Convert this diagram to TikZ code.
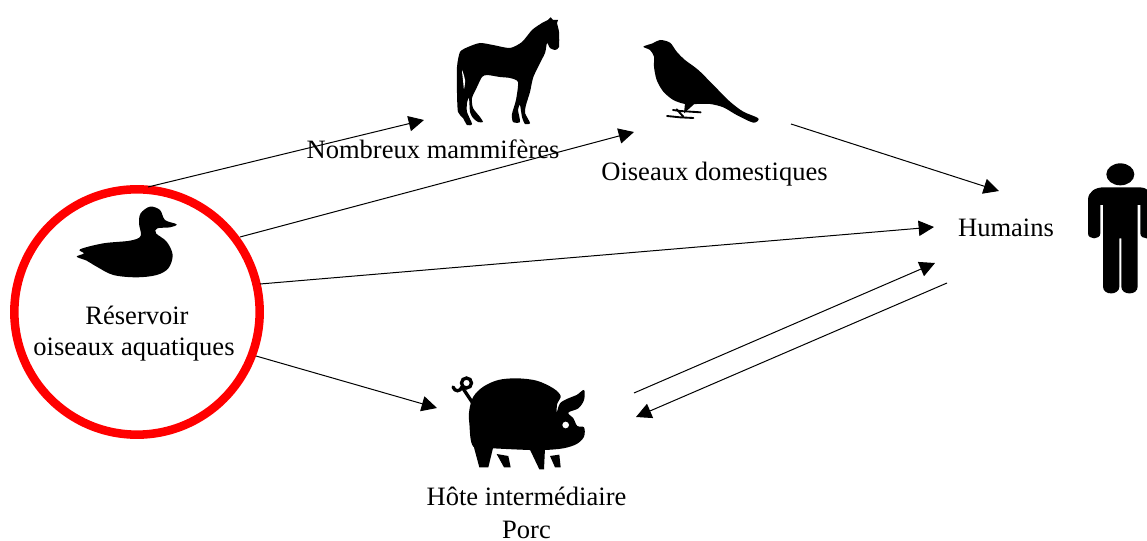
\documentclass[tikz,border=0pt]{standalone}
\usepackage{fontspec}
\setmainfont{Liberation Serif}
\usetikzlibrary{arrows.meta}
\tikzset{
  flow/.style={draw=black,line width=0.75pt,-{Triangle[length=11.5pt,width=11.5pt]}},
  lbl/.style={inner sep=0pt,anchor=base,align=center,font=\fontsize{19.9pt}{24pt}\selectfont,text=black},
  reservoirc/.style={circle,draw=red,line width=6.4pt,fill=none,minimum size=184pt,inner sep=0pt},
  sil/.style={fill=black,draw=none},
  zoomed/.style={x=0.25pt,y=-0.25pt}
}
\begin{document}
\begin{tikzpicture}[x=0.75pt,y=-0.75pt]
\clip (0,0) rectangle (1147,541);
\fill[white] (0,0) rectangle (1147,541);
% horse
\fill[sil] plot[smooth cycle,tension=0.4] coordinates {(550.7,17.3)(553,20)(558,20)(557,23)(559,32)(559,47)(555,50)(550,48)(547,43)(545,53)(538,67)(533,78)(530,92)(526,105)(525,113)(530,123)(525,124)(522,117)(520,105)(518,110)(520,122)(513,122)(512,114)(516,100)(518,82)(510,78)(500,77)(487,75)(482,77)(477,87)(472,98)(473,108)(480,117)(483,122)(478,122)(473,118)(470,112)(469,98)(467,103)(467,112)(472,124)(467,125)(463,118)(458,112)(457,93)(457,67)(460,52)(468,47)(480,43)(493,45)(510,48)(522,42)(532,30)(542,23)(548,20)};
\fill[white] plot[smooth cycle,tension=0.5] coordinates {(462,70)(465,80)(464,89)(463,80)};
% bird
\begin{scope}[shift={(630,30)},zoomed]
\fill[sil] plot[smooth cycle,tension=0.5] coordinates {(40,50)(68,40)(90,30)(120,38)(140,65)(165,90)(205,120)(250,165)(300,215)(340,245)(385,265)(370,278)(320,255)(280,232)(240,222)(200,222)(165,222)(130,210)(100,185)(80,150)(72,110)(72,80)(60,60)};
\fill[sil] (165,220)--(195,220)--(162,250)--cycle;
\draw[black,line width=1.4pt,line cap=round] (129,240)--(150,243)--(212,247);
\draw[black,line width=1.4pt,line cap=round] (111,258)--(150,262)--(190,264);
\draw[black,line width=1.4pt,line cap=round] (140,238)--(160,260);
\end{scope}
% duck
\begin{scope}[shift={(70,200)},zoomed]
\fill[sil] plot[smooth cycle,tension=0.55] coordinates {(20,170)(42,160)(30,148)(100,130)(180,122)(212,108)(207,70)(212,40)(240,20)(270,30)(285,60)(320,73)(300,82)(262,85)(258,100)(290,125)(308,165)(295,205)(260,225)(200,232)(130,225)(80,200)(50,182)};
\end{scope}
% pig
\begin{scope}[shift={(440,370)},zoomed]
\fill[sil] plot[smooth cycle,tension=0.55] coordinates {(100,80)(130,50)(175,30)(230,25)(290,32)(340,55)(362,78)(352,100)(350,128)(360,100)(385,85)(410,75)(432,60)(432,90)(415,115)(385,128)(400,145)(412,168)(432,172)(432,200)(410,222)(370,235)(315,240)(268,240)(160,235)(100,230)(88,160)(88,120)};
\fill[sil] (100,225)--(118,292)--(145,292)--(160,230)--cycle;
\fill[sil] (268,235)--(298,298)--(312,298)--(315,235)--cycle;
\fill[sil] (170,252)--(205,258)--(212,292)--(192,292)--cycle;
\fill[sil] (330,258)--(358,254)--(362,292)--(345,292)--cycle;
\fill[white] (377,165) circle[radius=10];
\end{scope}
\draw[black,line width=2.5pt] (466.5,383) circle[radius=5];
\draw[black,line width=2.5pt,line cap=round] (474,405) -- (462,387) .. controls (460,392) and (455,392) .. (453,387);
% human
\begin{scope}[shift={(1077,155)},zoomed]
\fill[sil] (130,58) ellipse[x radius=42,y radius=33];
\fill[sil] (33,135) .. controls (33,110) and (55,97) .. (80,97) -- (185,97) .. controls (210,97) and (227,110) .. (227,135) -- (227,235) .. controls (227,255) and (190,255) .. (190,235) -- (190,150) -- (182,150) -- (182,395) .. controls (182,422) and (133,422) .. (133,395) -- (133,250) -- (127,250) -- (127,395) .. controls (127,422) and (78,422) .. (78,395) -- (78,150) -- (70,150) -- (70,235) .. controls (70,255) and (33,255) .. (33,235) -- cycle;
\end{scope}
% labels and nodes
\node[reservoirc] (res) at (137,312) {};
\node[lbl] (reslabel) at (137,325) {Réservoir};
\node[lbl] (reslabelb) at (134,356) {oiseaux aquatiques};
\node[lbl] (mam) at (433,159) {Nombreux mammifères};
\node[lbl] (dom) at (714.5,181) {Oiseaux domestiques};
\node[lbl] (hum) at (1006,237) {Humains};
\node[lbl] (hote) at (526.5,506) {Hôte intermédiaire};
\node[lbl] (porc) at (526.5,539) {Porc};
% connector ends
\coordinate (a1) at (148,187); \coordinate (b1) at (424,120);
\coordinate (a2) at (240,237); \coordinate (b2) at (634,132);
\coordinate (a3) at (260,284); \coordinate (b3) at (934,227);
\coordinate (a4) at (256,356); \coordinate (b4) at (437,408);
\coordinate (a5) at (791,124); \coordinate (b5) at (999,191);
\coordinate (a6) at (634,393); \coordinate (b6) at (935,263);
\coordinate (a7) at (947,283); \coordinate (b7) at (636,417);
\draw[flow] (a1) -- (b1);
\draw[flow] (a2) -- (b2);
\draw[flow] (a3) -- (b3);
\draw[flow] (a4) -- (b4);
\draw[flow] (a5) -- (b5);
\draw[flow] (a6) -- (b6);
\draw[flow] (a7) -- (b7);
\end{tikzpicture}
\end{document}
